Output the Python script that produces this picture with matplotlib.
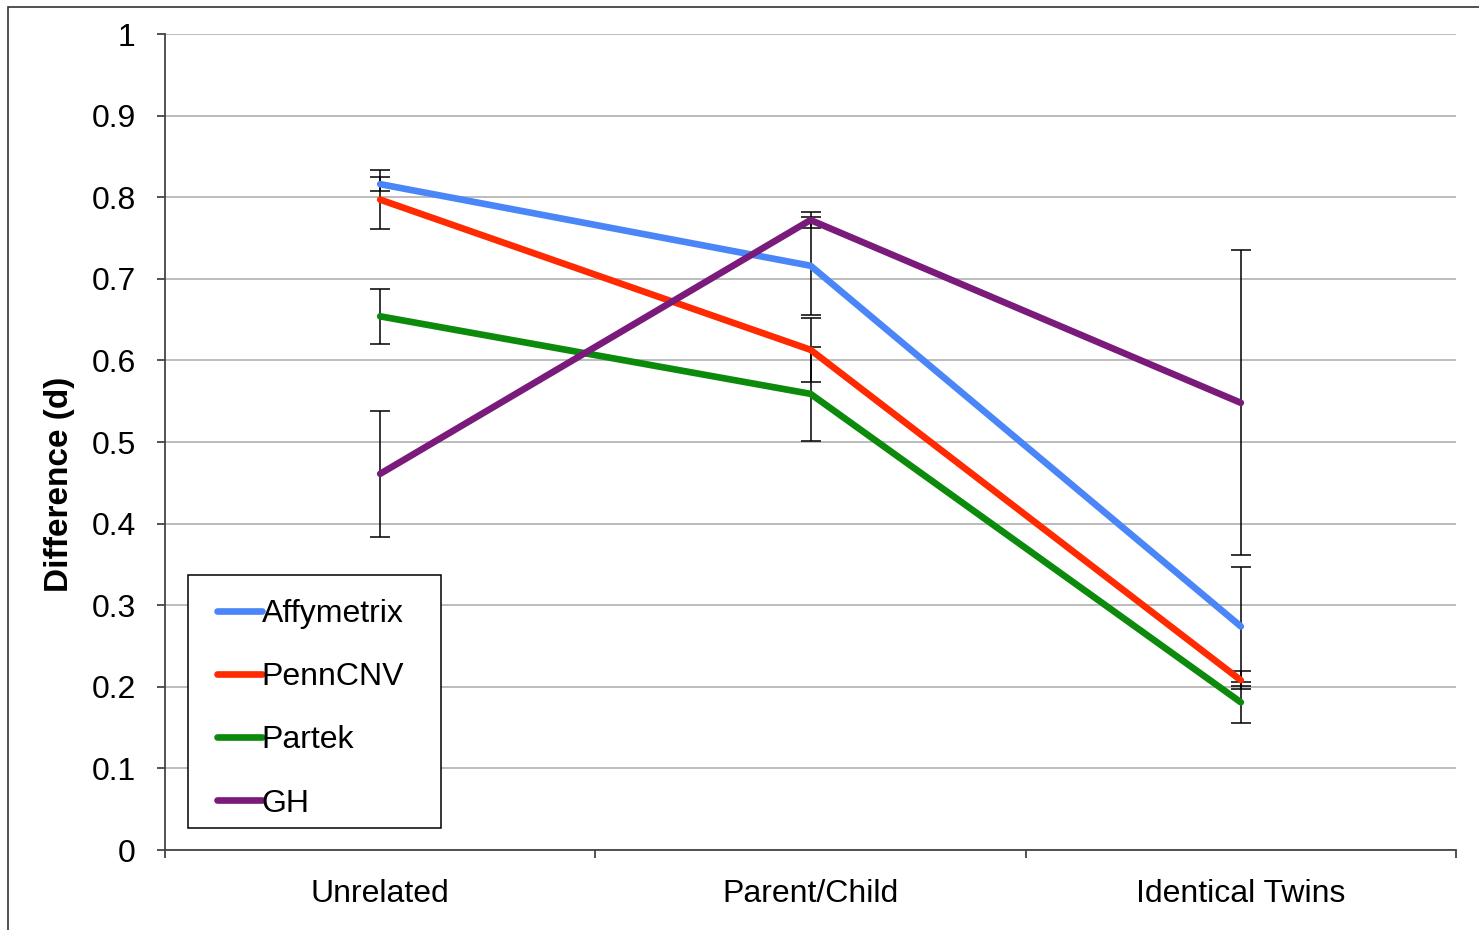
import matplotlib.pyplot as plt
from matplotlib.patches import Rectangle

plt.rcParams['font.family'] = ['Liberation Sans', 'DejaVu Sans']

categories = ["Unrelated", "Parent/Child", "Identical Twins"]
series = ["Affymetrix", "PennCNV", "Partek", "GH"]
affymetrix = [0.816, 0.716, 0.274]
penncnv = [0.797, 0.613, 0.208]
partek = [0.654, 0.559, 0.181]
gh = [0.461, 0.772, 0.548]
affymetrix_err = [0.009, 0.060, 0.073]
penncnv_err = [0.036, 0.039, 0.011]
partek_err = [0.034, 0.058, 0.025]
gh_err = [0.077, 0.010, 0.187]
colors = ["#4a86f8", "#ff2a00", "#0b8a0b", "#7a1a7a"]

values = [affymetrix, penncnv, partek, gh]
errors = [affymetrix_err, penncnv_err, partek_err, gh_err]

fig = plt.figure(figsize=(14.79, 9.30), dpi=100)
ax = fig.add_axes([165 / 1479, 80 / 930, 1291 / 1479, 816 / 930])

# outer frame of the original picture
fig.patches.append(Rectangle((8 / 1479, -0.01), 1.02, (930 - 7) / 930 + 0.01,
                             transform=fig.transFigure, fill=False,
                             edgecolor="#333333", linewidth=1.2))

x = list(range(len(categories)))
for vals, errs in zip(values, errors):
    ax.errorbar(x, vals, yerr=errs, fmt="none", ecolor="black",
                elinewidth=1.1, capsize=7, capthick=1.1, zorder=3)
for vals, name, c in zip(values, series, colors):
    ax.plot(x, vals, color=c, linewidth=4.8, label=name,
            solid_capstyle="round", zorder=4)

ax.set_xlim(-0.5, 2.5)
ax.set_ylim(0, 1)
ax.set_yticks([i / 10 for i in range(11)])
ax.set_yticklabels(["0", "0.1", "0.2", "0.3", "0.4", "0.5", "0.6",
                    "0.7", "0.8", "0.9", "1"], fontsize=23)
ax.set_xticks([-0.5, 0.5, 1.5, 2.5])
ax.set_xticklabels([])
ax.set_xticks(x, minor=True)
ax.set_xticklabels(categories, minor=True, fontsize=23)
ax.tick_params(axis="x", which="minor", length=0, pad=21)
ax.tick_params(axis="x", which="major", length=6, width=1.3, color="#444444")
ax.tick_params(axis="y", length=6, width=1.3, color="#444444", pad=15)
ax.grid(axis="y", color="#aaaaaa", linewidth=1.1)
ax.set_axisbelow(True)
for s in ["top", "right"]:
    ax.spines[s].set_visible(False)
for s in ["left", "bottom"]:
    ax.spines[s].set_color("#444444")
    ax.spines[s].set_linewidth(1.3)

ax.set_ylabel("Difference (d)", fontsize=24, fontweight="bold", labelpad=12)
ax.yaxis.label.set_y(0.4485)

# legend box drawn separately so its padding can match the original
ax.add_patch(Rectangle((0.0178, 0.027), 0.196, 0.310, transform=ax.transAxes,
                       facecolor="white", edgecolor="black", linewidth=1.1,
                       zorder=5))
leg = ax.legend(loc="upper left", bbox_to_anchor=(0.0403, 0.3076),
                borderaxespad=0, fontsize=23, handlelength=1.4,
                handletextpad=0.0, labelspacing=1.04, borderpad=0,
                frameon=False)
leg.set_zorder(6)

fig.savefig("out.png", dpi=100)
